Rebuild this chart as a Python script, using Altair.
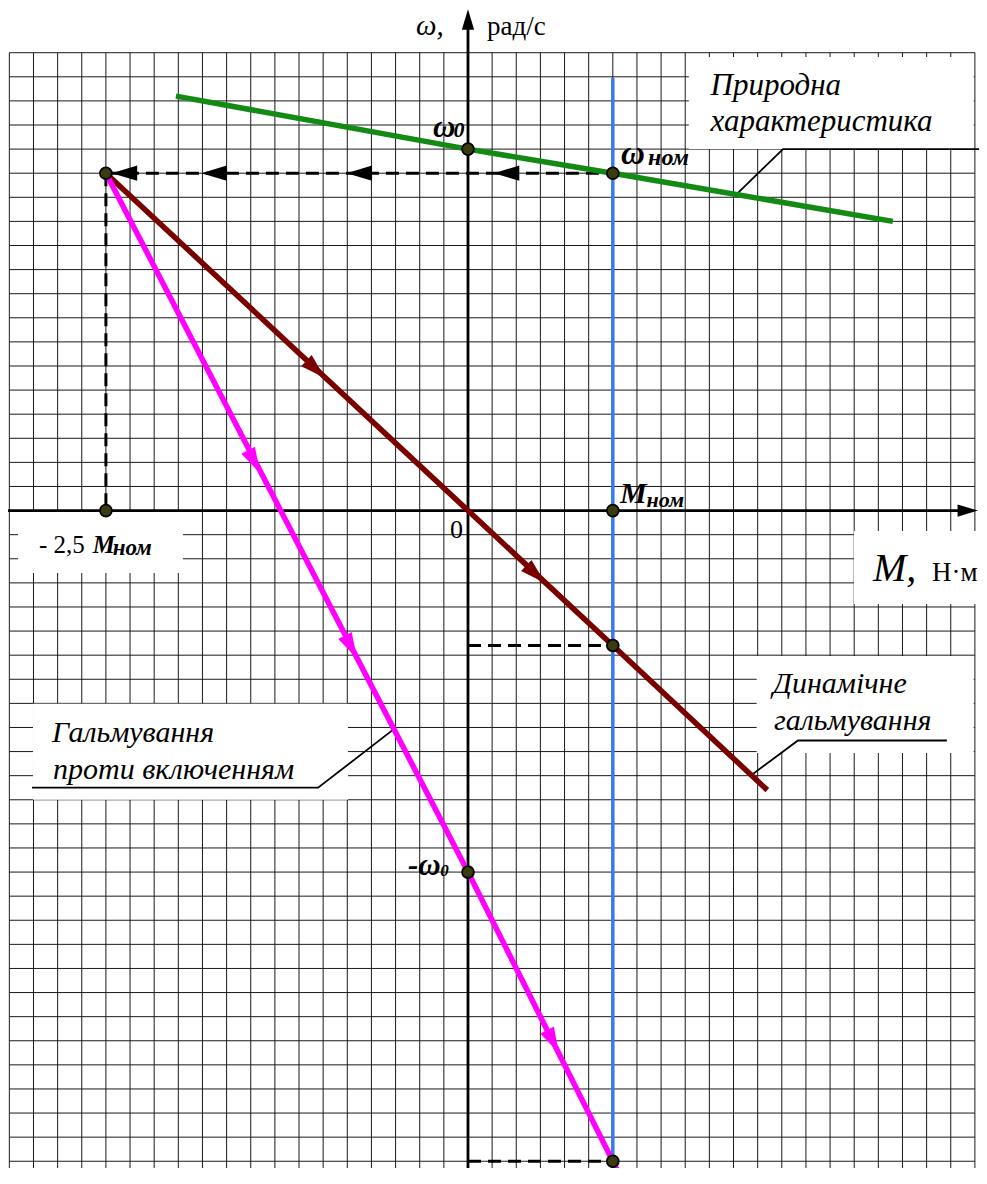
import math
import altair as alt
import pandas as pd

# ---------------- data (grid-cell units: M along x, omega along y) ----------------
X_DOMAIN = [-19.056, 21.17]
Y_DOMAIN = [-27.28, 20.855]
W, H = 971, 1160

grid_M = list(range(-19, 22))          # vertical grid lines
grid_w = list(range(19, -29, -1))      # horizontal grid lines

natural_M = [-12.1, 0, 6, 17.6]
natural_w = [17.2, 15, 14, 12.0]
dynamic_M = [-15, 0, 6, 12.4]
dynamic_w = [14, 0, -5.6, -11.6]
plugging_M = [-15, 0, 6, 6.6]
plugging_w = [14, -15, -27, -28.2]

dot_M = [-15, 0, 6, -15, 6, 6, 0, 6]
dot_w = [14, 15, 14, 0, 0, -5.6, -15, -27]

# dashed helper lines: (M1, w1, M2, w2)
dashed = [(-15, 14, 6, 14), (-15, 14, -15, 0), (0, -5.6, 6, -5.6), (0, -27, 6, -27)]

arrow_left_M = [-14.76, -11.05, -5.03, 1.07]
arrow_left_w = [14, 14, 14, 14]
arrow_dyn_M = [-5.92, 3.19]
arrow_dyn_w = [5.5, -3.0]
arrow_plug_M = [-8.62, -4.61, 3.75]
arrow_plug_w = [1.56, -6.12, -22.5]

blue_M = [6, 6]
blue_w = [17.95, -28.5]

# label boxes (M1, M2, w1, w2)
boxes = [(9.15, 20.95, 15.0, 18.82), (11.96, 20.95, -10.06, -6.03),
         (-18.02, -4.97, -12.0, -8.02), (-18.64, -11.81, -2.59, -0.02),
         (15.99, 21.6, -3.88, -0.85)]

leaders = [
    [(11.1, 13.1), (13.05, 15.0), (21.6, 15.0)],
    [(11.75, -10.97), (13.67, -9.54), (19.84, -9.54)],
    [(-3.07, -9.07), (-6.21, -11.5), (-18.06, -11.5)],
]

# texts: (M, w, text, size)
texts_italic = [
    (10.05, 17.24, "Природна", 31), (10.05, 15.76, "характеристика", 31),
    (12.63, -7.57, "Динамічне", 30), (12.68, -9.10, "гальмування", 30),
    (-17.23, -9.60, "Гальмування", 30), (-17.19, -11.14, "проти включенням", 30),
    (16.78, -2.93, "M,", 40), (-2.15, 19.74, "ω,", 29),
]
texts_regular = [
    (-17.77, -1.76, "- 2,5", 25), (19.22, -2.93, "Н·м", 27),
    (-0.75, -1.14, "0", 26), (0.79, 19.74, "рад/с", 27),
]
texts_bold = [
    (-15.55, -1.76, "M", 25), (-14.72, -1.84, "ном", 23),
    (-1.45, 15.50, "ω", 31), (-0.60, 15.50, "0", 22),
    (6.34, 14.38, "ω", 33), (7.46, 14.34, "ном", 24),
    (6.30, 0.30, "M", 30), (7.40, 0.16, "ном", 22),
    (-2.49, -15.12, "-ω", 31), (-1.15, -15.15, "0", 17),
]

# ---------------- helpers ----------------
KX = W / (X_DOMAIN[1] - X_DOMAIN[0])
KY = H / (Y_DOMAIN[1] - Y_DOMAIN[0])
xs = alt.Scale(domain=X_DOMAIN, nice=False, zero=False)
ys = alt.Scale(domain=Y_DOMAIN, nice=False, zero=False)
ARROW = "M 0 0 L 2 -0.6 L 2 0.6 Z"
FONT = "Liberation Serif, Times New Roman, DejaVu Serif, serif"


def X(f="M"):
    return alt.X(f"{f}:Q", scale=xs, axis=None)


def Y(f="w"):
    return alt.Y(f"{f}:Q", scale=ys, axis=None)


def angle_of(dM, dw):
    return (math.degrees(math.atan2(-dw * KY, dM * KX)) - 180) % 360


def seg_dir(Ms, ws, m):
    for i in range(len(Ms) - 1):
        if Ms[i] <= m <= Ms[i + 1]:
            return Ms[i + 1] - Ms[i], ws[i + 1] - ws[i]
    return Ms[-1] - Ms[-2], ws[-1] - ws[-2]


def polyline(Ms, ws, color, width, dash=None):
    df = pd.DataFrame({"M": Ms, "w": ws, "i": range(len(Ms))})
    kw = dict(color=color, strokeWidth=width, clip=True, strokeCap="butt")
    if dash:
        kw["strokeDash"] = dash
    return alt.Chart(df).mark_line(**kw).encode(x=X(), y=Y(), order="i:Q")


layers = []

# grid
gv = pd.DataFrame({"M": grid_M, "w1": max(grid_w), "w2": min(grid_w)})
gh = pd.DataFrame({"w": grid_w, "M1": min(grid_M), "M2": max(grid_M)})
layers.append(alt.Chart(gv).mark_rule(color="#1a1a1a", strokeWidth=1, clip=True)
              .encode(x=X(), y=Y("w1"), y2="w2:Q"))
layers.append(alt.Chart(gh).mark_rule(color="#1a1a1a", strokeWidth=1, clip=True)
              .encode(y=Y(), x=X("M1"), x2="M2:Q"))

# white label boxes
bdf = pd.DataFrame(boxes, columns=["M1", "M2", "w1", "w2"])
layers.append(alt.Chart(bdf).mark_rect(color="white", clip=True)
              .encode(x=X("M1"), x2="M2:Q", y=Y("w1"), y2="w2:Q"))

# leader lines
for ld in leaders:
    layers.append(polyline([p[0] for p in ld], [p[1] for p in ld], "black", 1.8))

# axes
layers.append(polyline([0, 0], [-28.5, 20.0], "black", 2.8))
layers.append(polyline([-19.5, 20.8], [0, 0], "black", 2.8))
axis_arrows = pd.DataFrame({"M": [0, 21.13], "w": [20.8, 0],
                            "ang": [angle_of(0, 1), angle_of(1, 0)]})
layers.append(alt.Chart(axis_arrows).mark_point(shape=ARROW, filled=True, color="black",
                                                opacity=1, size=420)
              .encode(x=X(), y=Y(), angle=alt.Angle("ang:Q", scale=None)))

# blue line at M_nom
layers.append(polyline(blue_M, blue_w, "#3a78f2", 3.5))

# dashed lines
for (m1, w1, m2, w2) in dashed:
    layers.append(polyline([m1, m2], [w1, w2], "black", 3, dash=[13, 7]))

# characteristics
layers.append(polyline(natural_M, natural_w, "#138a13", 5.5))
layers.append(polyline(dynamic_M, dynamic_w, "#7a0000", 5.5))
layers.append(polyline(plugging_M, plugging_w, "#ff00ff", 5.5))

# arrowheads
arr_rows = []
for m, w in zip(arrow_left_M, arrow_left_w):
    arr_rows.append((m, w, angle_of(-1, 0), "black"))
for m, w in zip(arrow_dyn_M, arrow_dyn_w):
    arr_rows.append((m, w, angle_of(*seg_dir(dynamic_M, dynamic_w, m)), "#7a0000"))
for m, w in zip(arrow_plug_M, arrow_plug_w):
    arr_rows.append((m, w, angle_of(*seg_dir(plugging_M, plugging_w, m)), "#ff00ff"))
adf = pd.DataFrame(arr_rows, columns=["M", "w", "ang", "col"])
layers.append(alt.Chart(adf).mark_point(shape=ARROW, filled=True, opacity=1, size=650)
              .encode(x=X(), y=Y(), angle=alt.Angle("ang:Q", scale=None),
                      color=alt.Color("col:N", scale=None)))

# points
ddf = pd.DataFrame({"M": dot_M, "w": dot_w})
layers.append(alt.Chart(ddf).mark_point(shape="circle", filled=True, fill="#3b3b10",
                                        stroke="black", strokeWidth=1.8, opacity=1, size=140)
              .encode(x=X(), y=Y()))


def text_layer(rows, style, weight):
    df = pd.DataFrame(rows, columns=["M", "w", "t", "s"])
    return (alt.Chart(df)
            .mark_text(align="left", baseline="alphabetic", font=FONT, fontStyle=style,
                       fontWeight=weight, color="black")
            .encode(x=X(), y=Y(), text="t:N", size=alt.Size("s:Q", scale=None)))


layers.append(text_layer(texts_italic, "italic", "normal"))
layers.append(text_layer(texts_regular, "normal", "normal"))
layers.append(text_layer(texts_bold, "italic", "bold"))

chart = (alt.layer(*layers)
         .properties(width=W, height=H, padding=0,
                     autosize=alt.AutoSizeParams(type="none"))
         .configure_view(stroke=None))

chart.save("out.html", embed_options={"renderer": "svg", "actions": False})
